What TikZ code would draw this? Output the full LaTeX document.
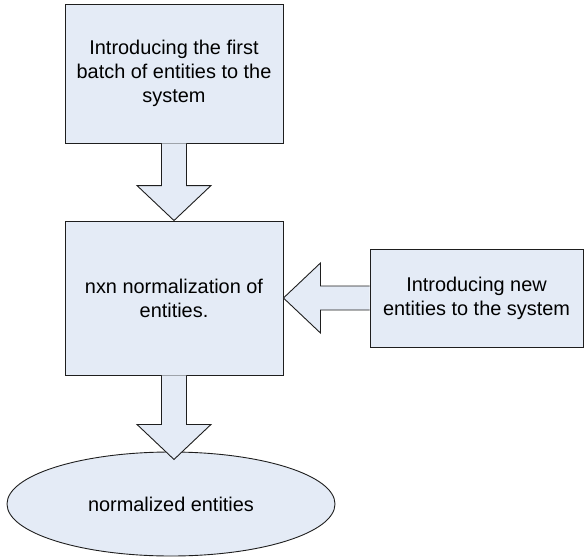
\documentclass[tikz,border=0pt]{standalone}
\usepackage{fontspec}
\setmainfont{Liberation Sans}
\usetikzlibrary{calc,shapes.geometric}
\definecolor{boxfill}{RGB}{228,235,246}
\definecolor{edge}{RGB}{30,30,30}
\tikzset{
  stage/.style={draw=edge, fill=boxfill, line width=0.9pt, align=center,
    font=\fontsize{19.9}{24}\selectfont, inner sep=0pt},
  result/.style={stage, ellipse},
  blockarrow/.style={draw=edge, fill=boxfill, line width=0.9pt, line join=miter}
}
\begin{document}
\begin{tikzpicture}[x=1pt,y=-1pt]
  \useasboundingbox (0,0) rectangle (586,559);
  % process boxes and the result
  \node[stage, minimum width=218pt, minimum height=139pt] (b1) at (174,73.5)
    {Introducing the first\\batch of entities to the\\system};
  \node[stage, minimum width=218pt, minimum height=154pt] (b2) at (174,298)
    {nxn normalization of\\entities.};
  \node[stage, minimum width=213pt, minimum height=98pt] (b3) at (476.5,298)
    {Introducing new\\entities to the system};
  \node[result, minimum width=328pt, minimum height=104pt] (res) at (171,504)
    {normalized entities};
  % block arrow from the first batch to the normalization step
  \draw[blockarrow] ($(b1.south)+(-12.5,0)$) -- ($(b2.north)+(-12.5,-35)$)
    -- ($(b2.north)+(-37,-35)$) -- (b2.north) -- ($(b2.north)+(37,-35)$)
    -- ($(b2.north)+(12.5,-35)$) -- ($(b1.south)+(12.5,0)$);
  % block arrow from the new entities to the normalization step
  \draw[blockarrow] ($(b3.west)+(0,-12)$) -- ($(b2.east)+(37,-12)$)
    -- ($(b2.east)+(37,-35)$) -- (b2.east) -- ($(b2.east)+(37,35)$)
    -- ($(b2.east)+(37,12)$) -- ($(b3.west)+(0,12)$);
  % block arrow from the normalization step to the result
  \coordinate (tip) at ($(b2.south)+(0,84)$);
  \draw[blockarrow] ($(b2.south)+(-12.5,0)$) -- ($(tip)+(-12.5,-35)$)
    -- ($(tip)+(-37,-35)$) -- (tip) -- ($(tip)+(37,-35)$)
    -- ($(tip)+(12.5,-35)$) -- ($(b2.south)+(12.5,0)$);
\end{tikzpicture}
\end{document}
